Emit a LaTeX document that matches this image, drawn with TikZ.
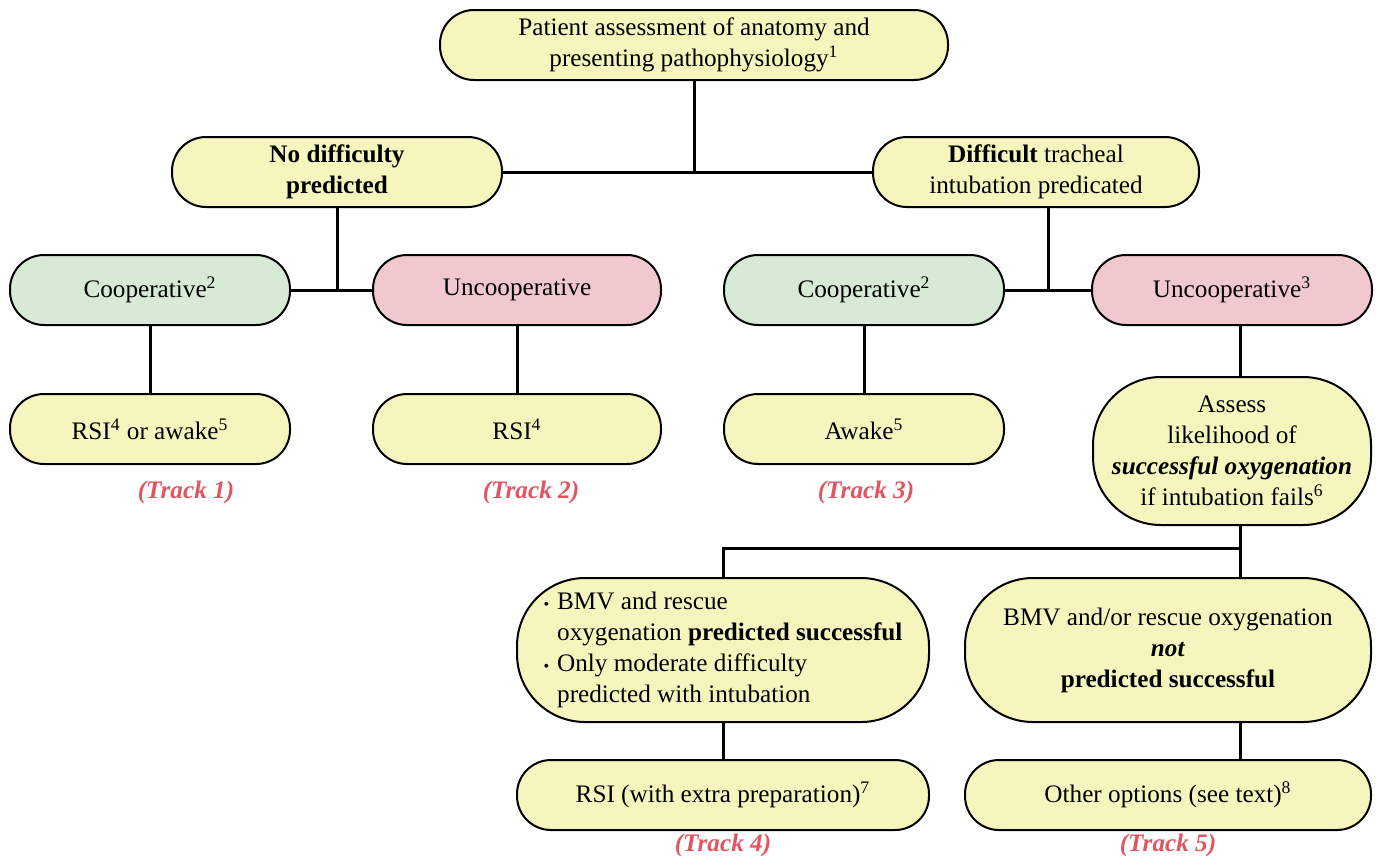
\documentclass[tikz,border=0pt]{standalone}
\usepackage{fontspec}
\setmainfont{Liberation Serif}
\usetikzlibrary{positioning}

\definecolor{boxyellow}{RGB}{247,245,190}
\definecolor{boxgreen}{RGB}{214,234,214}
\definecolor{boxpink}{RGB}{240,200,206}
\definecolor{trackred}{RGB}{226,84,96}

\tikzset{
  box/.style={draw, line width=1pt, fill=boxyellow, rounded corners=17pt,
    minimum height=35pt, align=center, inner sep=2pt,
    font=\fontsize{12.6}{15.5}\selectfont},
  tallbox/.style={box, rounded corners=34pt},
  coopbox/.style={box, fill=boxgreen},
  uncoopbox/.style={box, fill=boxpink},
  tracklabel/.style={text=trackred, font=\fontsize{12.6}{15.5}\selectfont\itshape\bfseries},
  link/.style={line width=1.5pt}
}

\begin{document}
\begin{tikzpicture}[x=0.5pt,y=-0.5pt]
    \useasboundingbox (0,0) rectangle (1376,863);
    % first level
    \node[box, minimum width=254pt] (assessment) at (694,45)
      {Patient assessment of anatomy and\\presenting pathophysiology\textsuperscript{1}};
    \node[box, minimum width=165pt] (nodiff) at (337,172)
      {\textbf{No difficulty}\\\textbf{predicted}};
    \node[box, minimum width=163pt] (diff) at (1036,172)
      {\textbf{Difficult} tracheal\\intubation predicated};
    % second level
    \node[coopbox, minimum width=140pt] (coopA) at (150,290) {Cooperative\textsuperscript{2}};
    \node[uncoopbox, minimum width=144pt] (uncoopA) at (517,290) {Uncooperative};
    \node[coopbox, minimum width=140pt] (coopB) at (864,290) {Cooperative\textsuperscript{2}};
    \node[uncoopbox, minimum width=140pt] (uncoopB) at (1232,290) {Uncooperative\textsuperscript{3}};
    % tracks 1-3
    \node[box, minimum width=140pt] (rsiawake) at (150,429)
      {RSI\textsuperscript{4} or awake\textsuperscript{5}};
    \node[box, minimum width=144pt] (rsi) at (517,429) {RSI\textsuperscript{4}};
    \node[box, minimum width=140pt] (awake) at (864,429) {Awake\textsuperscript{5}};
    \node[tallbox, minimum width=139pt, minimum height=74pt] (oxy) at (1232,451)
      {Assess\\likelihood of\\\textit{\textbf{successful oxygenation}}\\if intubation fails\textsuperscript{6}};
    \node[tracklabel] (track1) at (186,492) {(Track 1)};
    \node[tracklabel] (track2) at (531,492) {(Track 2)};
    \node[tracklabel] (track3) at (866,492) {(Track 3)};
    % tracks 4-5
    \node[tallbox, minimum width=206pt, minimum height=72pt] (bmvok) at (723,650)
      {\begin{tabular}{@{}l@{\hspace{4pt}}l@{}}
        {\footnotesize\textbullet} & BMV and rescue\\
        & oxygenation \textbf{predicted successful}\\
        {\footnotesize\textbullet} & Only moderate difficulty\\
        & predicted with intubation
      \end{tabular}};
    \node[tallbox, minimum width=203pt, minimum height=72pt] (bmvfail) at (1168,650)
      {BMV and/or rescue oxygenation\\\textit{\textbf{not}}\\\textbf{predicted successful}};
    \node[box, minimum width=206pt] (rsiprep) at (723,795)
      {RSI (with extra preparation)\textsuperscript{7}};
    \node[box, minimum width=203pt] (other) at (1168,795)
      {Other options (see text)\textsuperscript{8}};
    \node[tracklabel] (track4) at (723,845) {(Track 4)};
    \node[tracklabel] (track5) at (1168,845) {(Track 5)};

    \coordinate (split) at (1240,548);
    % connectors
    \draw[link] (assessment.south) -- (assessment.south |- nodiff.east);
    \draw[link] (nodiff.east) -- (diff.west);
    \draw[link] (nodiff.south) -- (nodiff.south |- coopA.east);
    \draw[link] (coopA.east) -- (uncoopA.west);
    \draw[link] ([xshift=6pt]diff.south) -- ([xshift=6pt]diff.south |- coopB.east);
    \draw[link] (coopB.east) -- (uncoopB.west);
    \draw[link] (coopA) -- (rsiawake);
    \draw[link] (uncoopA) -- (rsi);
    \draw[link] (coopB) -- (awake);
    \draw[link] (uncoopB.south -| split) -- (oxy.north -| split);
    \draw[link] (oxy.south -| split) -- (split);
    \draw[link] (split) -| (bmvok.north);
    \draw[link] (split) -- (bmvfail.north -| split);
    \draw[link] (bmvok) -- (rsiprep);
    \draw[link] (bmvfail.south -| split) -- (other.north -| split);
\end{tikzpicture}
\end{document}
